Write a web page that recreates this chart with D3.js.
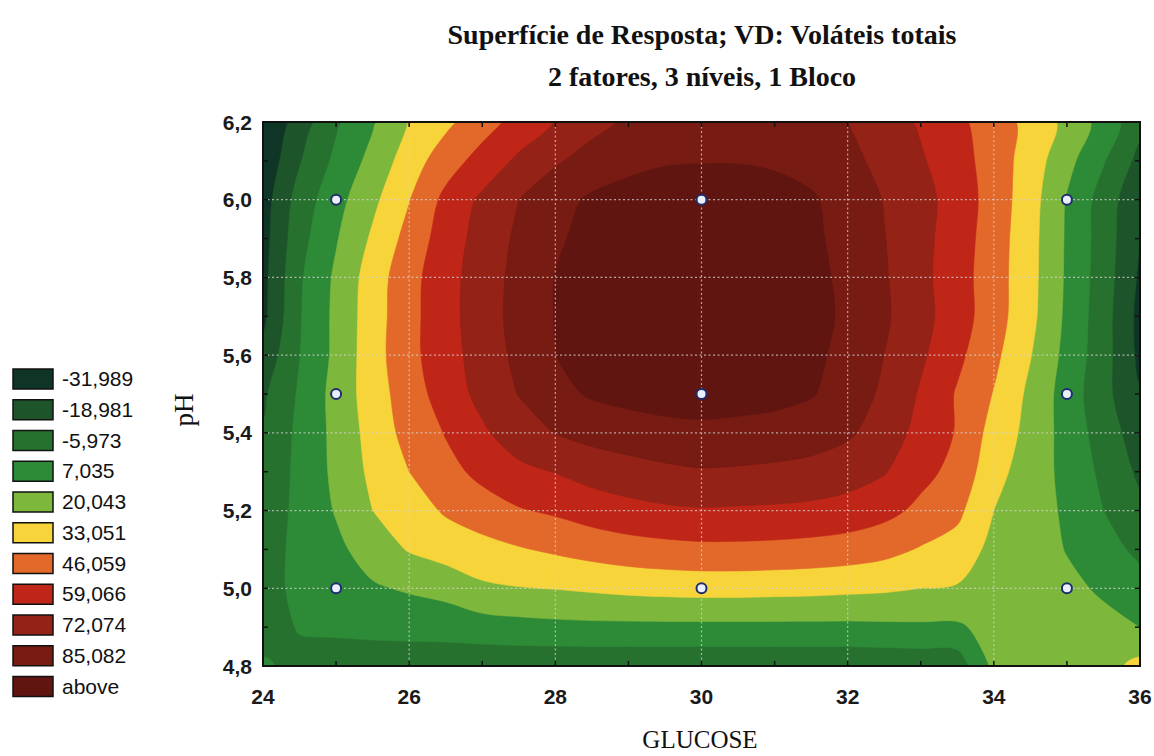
<!DOCTYPE html>
<html>
<head>
<meta charset="utf-8">
<script src="https://cdn.jsdelivr.net/npm/d3@7"></script>
<style>
  body { margin: 0; background: #ffffff; }
  svg { display: block; }
</style>
</head>
<body>
<svg id="chart" width="1154" height="756"></svg>
<script>
// Grid of the fitted response surface: GLUCOSE columns and pH rows
const glucose = [24, 24.5, 25, 25.5, 26, 26.5, 27, 27.5, 28, 28.5, 29, 29.5, 30,
                 30.5, 31, 31.5, 32, 32.5, 33, 33.5, 34, 34.5, 35, 35.5, 36];
const ph = [6.2, 6.1, 6.0, 5.9, 5.8, 5.7, 5.6, 5.5, 5.4, 5.3, 5.2, 5.1, 5.0, 4.9, 4.8];

// Predicted total volatiles, one array per pH row (left to right along GLUCOSE)
const vt62 = [-45, -26, -8, 5.5, 20.5, 30, 40.5, 50.5, 59.5, 68, 74, 77, 78.5, 79, 78, 75.5, 72, 64.5, 57.5, 49, 39.5, 29, 16.5, 2, -15];
const vt61 = [-42, -20, -3, 11, 26.5, 40, 51, 61.5, 70.5, 77, 81.5, 84, 84.5, 84.5, 83.5, 81, 76, 68, 60.5, 51.5, 40, 27, 11, -5, -23];
const vt60 = [-38, -13.5, 2.5, 17, 32.5, 49.5, 61.5, 72, 80.5, 87, 90, 91.5, 92, 91.5, 89.5, 86.5, 80, 71.5, 63.5, 53.5, 40.5, 25.5, 6, -11.5, -30];
const vt59 = [-37, -10.5, 6, 22, 37.5, 52.5, 64, 74.5, 83.5, 88.5, 91.5, 93, 93.5, 93, 91, 87.5, 81, 72.5, 63, 52.5, 39.5, 24.5, 5.5, -12, -32];
const vt58 = [-36, -7.7, 9.2, 26.3, 41.6, 54.3, 65.6, 76, 85.5, 89.5, 92, 93.5, 94, 93.5, 92, 88.5, 82.3, 73.4, 62.7, 51.5, 39, 24.1, 5.2, -12.5, -34];
const vt57 = [-35, -7, 10, 27, 42, 54.5, 66, 76.5, 85.5, 90, 93, 94.5, 95, 94.5, 92.5, 89, 83, 74, 63.5, 52, 39, 23.5, 4.5, -13.5, -36];
const vt56 = [-28, -6.3, 10, 27.6, 42.3, 53.9, 64.7, 75.3, 85, 89.5, 92.5, 94, 94.5, 94, 92, 88, 81.3, 72, 61.2, 49, 36.1, 20.6, 3.1, -13.7, -35];
const vt55 = [-21, -4.4, 11.6, 26.6, 39.9, 51.9, 62.9, 72.5, 81.4, 86.5, 89, 90.5, 91, 90.5, 89, 86, 79.4, 69.6, 57.7, 44.8, 32.4, 17.1, 1.3, -15, -31];
const vt54 = [-18, -3, 10.5, 25, 37.5, 46.7, 57, 66, 72.5, 76.5, 79, 81, 82, 81, 80, 78, 74, 66, 55, 45, 28, 16, 2, -12, -26];
const vt53 = [-15, -3, 10, 23, 33, 42.4, 49, 56, 59.5, 64, 67, 69.5, 71, 70.5, 69.5, 68, 65, 60, 50, 42, 24.5, 13.5, 3.5, -9, -21.5];
const vt52 = [-13, -3, 8, 20, 27, 34.5, 41, 45, 48, 52, 55, 57, 58, 57.5, 57, 56, 54, 50, 43, 36, 20, 13, 5, -6, -16];
const vt51 = [-11, -3, 4, 13, 21, 25.7, 28, 32, 35, 38, 40.5, 42, 43, 43, 42.5, 41.5, 40, 37, 32, 28, 16, 12.5, 6.5, -1, -9];
const vt50 = [-10, -3.5, 1, 5.5, 8.5, 11.4, 18, 19.5, 20.5, 22, 23.5, 24.5, 25, 25, 24.5, 24, 23, 22, 20, 19, 14, 12.5, 9.5, 5.5, -1];
const vt49 = [-9, -5.5, -4.5, -3, -2, -1, 1, 2.5, 3.5, 4, 4, 4, 4, 4, 4, 4, 4, 4.5, 5, 5, 12, 13, 12, 10, 7];
const vt48 = [-5, -8, -10, -12, -13, -14, -15, -15.5, -16, -16, -16, -16, -16, -16, -16, -16, -16, -15.5, -15, -14, 10, 14, 15, 15, 24];

const surfaceRows = [vt62, vt61, vt60, vt59, vt58, vt57, vt56, vt55, vt54, vt53, vt52, vt51, vt50, vt49, vt48];

// Contour levels, legend texts and fill colours (lowest band first)
const levels = [-31.989, -18.981, -5.973, 7.035, 20.043, 33.051, 46.059, 59.066, 72.074, 85.082];
const legendLabels = ["-31,989", "-18,981", "-5,973", "7,035", "20,043", "33,051",
                      "46,059", "59,066", "72,074", "85,082", "above"];
const bandColors = ["#0f3527", "#1d5429", "#27712f", "#2d8a37", "#7db73c", "#f7d43a",
                    "#e3692a", "#bf2618", "#952216", "#771b13", "#601510"];

// Experimental design points (3 levels of each factor)
const designGlucose = [25, 30, 35];
const designPH = [5.0, 5.5, 6.0];

// Axis ticks
const xTickValues = [24, 26, 28, 30, 32, 34, 36];
const xTickLabels = ["24", "26", "28", "30", "32", "34", "36"];
const yTickValues = [4.8, 5.0, 5.2, 5.4, 5.6, 5.8, 6.0, 6.2];
const yTickLabels = ["4,8", "5,0", "5,2", "5,4", "5,6", "5,8", "6,0", "6,2"];

const titleLines = ["Superfície de Resposta; VD: Voláteis totais", "2 fatores, 3 níveis, 1 Bloco"];
const xTitle = "GLUCOSE";
const yTitle = "pH";

// ---------------------------------------------------------------------------
const svg = d3.select("#chart");
const plot = { left: 263, right: 1140, top: 122, bottom: 666 };

const x = d3.scaleLinear().domain([24, 36]).range([plot.left, plot.right]);
const y = d3.scaleLinear().domain([4.8, 6.2]).range([plot.bottom, plot.top]);

svg.append("defs").append("clipPath").attr("id", "plotClip")
  .append("rect")
  .attr("x", plot.left).attr("y", plot.top)
  .attr("width", plot.right - plot.left).attr("height", plot.bottom - plot.top);

const nx = glucose.length, ny = ph.length;
const values = surfaceRows.flat();
const stepX = glucose[1] - glucose[0];
const stepY = ph[1] - ph[0];

// d3.contours puts sample i at grid coordinate i + 0.5
const toScreen = ([gx, gy]) => [x(glucose[0] + (gx - 0.5) * stepX), y(ph[0] + (gy - 0.5) * stepY)];

const bands = d3.contours().size([nx, ny]).thresholds(levels)(values);

// Each band outline is drawn as a smooth closed curve through the contour vertices
const ringLine = d3.line().curve(d3.curveCatmullRomClosed.alpha(0.5));
function bandPath(multi) {
  return multi.coordinates.map(poly =>
    poly.map(ring => ringLine(ring.slice(0, -1).map(toScreen))).join("")
  ).join("");
}

const surface = svg.append("g").attr("clip-path", "url(#plotClip)");
surface.append("rect")
  .attr("x", plot.left).attr("y", plot.top)
  .attr("width", plot.right - plot.left).attr("height", plot.bottom - plot.top)
  .attr("fill", bandColors[0]);

surface.selectAll("path.band")
  .data(bands)
  .join("path")
  .attr("class", "band")
  .attr("d", bandPath)
  .attr("fill-rule", "evenodd")
  .attr("fill", (d, i) => bandColors[i + 1])
  .attr("stroke", (d, i) => bandColors[i + 1])
  .attr("stroke-width", 0.6);

// Dotted grid lines
const grid = svg.append("g").attr("clip-path", "url(#plotClip)");
grid.selectAll("line.vx")
  .data(xTickValues.slice(1, -1))
  .join("line")
  .attr("x1", d => x(d)).attr("x2", d => x(d))
  .attr("y1", plot.top).attr("y2", plot.bottom)
  .attr("stroke", "#d4d4d4").attr("stroke-opacity", 0.75)
  .attr("stroke-width", 1.2).attr("stroke-dasharray", "2,2.5");
grid.selectAll("line.hy")
  .data(yTickValues.slice(1, -1))
  .join("line")
  .attr("y1", d => y(d)).attr("y2", d => y(d))
  .attr("x1", plot.left).attr("x2", plot.right)
  .attr("stroke", "#d4d4d4").attr("stroke-opacity", 0.75)
  .attr("stroke-width", 1.2).attr("stroke-dasharray", "2,2.5");

// Design points
const pts = [];
designPH.forEach(p => designGlucose.forEach(g => pts.push([g, p])));
svg.append("g").selectAll("circle")
  .data(pts)
  .join("circle")
  .attr("cx", d => x(d[0])).attr("cy", d => y(d[1]))
  .attr("r", 5)
  .attr("fill", "#eaf0fb")
  .attr("stroke", "#1f2c6e")
  .attr("stroke-width", 2);

// Frame with inward ticks on all four sides
const frame = svg.append("g");
const minorX = d3.range(24, 36.001, 1);
const minorY = d3.range(0, 15).map(i => 4.8 + i * 0.1);
frame.selectAll("line.tb")
  .data(minorX)
  .join("line")
  .attr("x1", d => x(d)).attr("x2", d => x(d))
  .attr("y1", plot.bottom).attr("y2", plot.bottom - 5)
  .attr("stroke", "#111").attr("stroke-width", 1.5);
frame.selectAll("line.tt")
  .data(minorX)
  .join("line")
  .attr("x1", d => x(d)).attr("x2", d => x(d))
  .attr("y1", plot.top).attr("y2", plot.top + 5)
  .attr("stroke", "#111").attr("stroke-width", 1.5);
frame.selectAll("line.tl")
  .data(minorY)
  .join("line")
  .attr("y1", d => y(d)).attr("y2", d => y(d))
  .attr("x1", plot.left).attr("x2", plot.left + 5)
  .attr("stroke", "#111").attr("stroke-width", 1.5);
frame.selectAll("line.tr")
  .data(minorY)
  .join("line")
  .attr("y1", d => y(d)).attr("y2", d => y(d))
  .attr("x1", plot.right).attr("x2", plot.right - 5)
  .attr("stroke", "#111").attr("stroke-width", 1.5);
frame.append("rect")
  .attr("x", plot.left).attr("y", plot.top)
  .attr("width", plot.right - plot.left).attr("height", plot.bottom - plot.top)
  .attr("fill", "none").attr("stroke", "#111").attr("stroke-width", 2);

// Tick labels
const tickFont = "'Liberation Sans', Arial, sans-serif";
svg.append("g").selectAll("text")
  .data(xTickValues)
  .join("text")
  .attr("x", d => x(d)).attr("y", 704)
  .attr("text-anchor", "middle")
  .attr("font-family", tickFont).attr("font-weight", "bold").attr("font-size", 21)
  .attr("fill", "#1a1a1a")
  .text((d, i) => xTickLabels[i]);
svg.append("g").selectAll("text")
  .data(yTickValues)
  .join("text")
  .attr("x", 252).attr("y", d => y(d) + 7.5)
  .attr("text-anchor", "end")
  .attr("font-family", tickFont).attr("font-weight", "bold").attr("font-size", 21)
  .attr("fill", "#1a1a1a")
  .text((d, i) => yTickLabels[i]);

// Titles
const serif = "'Liberation Serif', 'Times New Roman', serif";
svg.append("g").selectAll("text")
  .data(titleLines)
  .join("text")
  .attr("x", 702).attr("y", (d, i) => 44 + i * 42)
  .attr("text-anchor", "middle")
  .attr("font-family", serif).attr("font-size", 28).attr("font-weight", "bold")
  .attr("fill", "#111")
  .text(d => d);
svg.append("text")
  .attr("x", 700).attr("y", 748)
  .attr("text-anchor", "middle")
  .attr("font-family", serif).attr("font-size", 25)
  .attr("fill", "#111")
  .text(xTitle);
svg.append("text")
  .attr("transform", "translate(193,410) rotate(-90)")
  .attr("text-anchor", "middle")
  .attr("font-family", serif).attr("font-size", 27)
  .attr("fill", "#111")
  .text(yTitle);

// Legend
const legend = svg.append("g");
const legendRows = legend.selectAll("g")
  .data(legendLabels)
  .join("g")
  .attr("transform", (d, i) => `translate(13, ${369 + i * 30.75})`);
legendRows.append("rect")
  .attr("width", 40).attr("height", 20)
  .attr("fill", (d, i) => bandColors[i])
  .attr("stroke", "#111").attr("stroke-width", 1.5);
legendRows.append("text")
  .attr("x", 49).attr("y", 17)
  .attr("font-family", tickFont).attr("font-size", 21)
  .attr("fill", "#111")
  .text(d => d);
</script>
</body>
</html>
